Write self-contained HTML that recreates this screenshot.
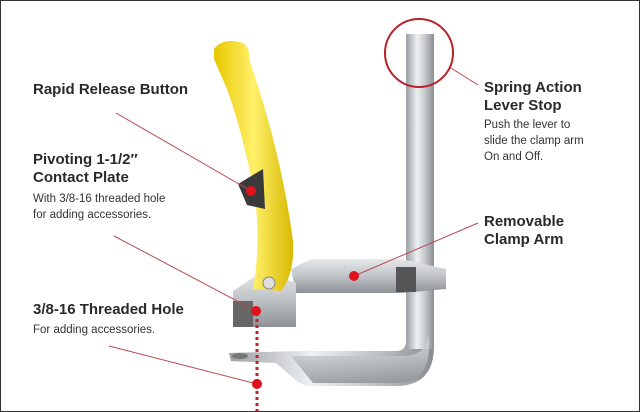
<!DOCTYPE html>
<html><head><style>
html,body{margin:0;padding:0;background:#fff}
.w{position:relative;width:638px;height:410px;border:1px solid #333;overflow:hidden;background:#fff;font-family:"Liberation Sans",sans-serif}
.t{position:absolute;font-weight:bold;font-size:15px;color:#2a2a2a;line-height:18px}
.s{position:absolute;font-size:11.5px;color:#333;line-height:16px}
svg{position:absolute;left:0;top:0}
</style></head><body><div class="w">
<svg width="640" height="412">
<defs>
<linearGradient id="m" x1="0" x2="1"><stop offset="0" stop-color="#9a9ea3"/><stop offset=".4" stop-color="#eef0f2"/><stop offset=".7" stop-color="#c2c6ca"/><stop offset="1" stop-color="#8a8e92"/></linearGradient>
<linearGradient id="mh" x1="0" y1="0" x2="0" y2="1"><stop offset="0" stop-color="#e6e8ea"/><stop offset=".5" stop-color="#c0c4c8"/><stop offset="1" stop-color="#8e9296"/></linearGradient>
<linearGradient id="y" x1="0" x2="1"><stop offset="0" stop-color="#e8c800"/><stop offset=".5" stop-color="#fff06a"/><stop offset="1" stop-color="#d9b800"/></linearGradient>
</defs>
<path d="M405 33 L433 33 L433 345 Q433 385 395 385 L310 385 Q300 385 290 375 L275 362 L230 360 L228 352 L300 350 L395 350 Q405 350 405 340 Z" fill="url(#m)"/>
<rect x="405" y="33" width="28" height="315" fill="url(#m)"/>
<path d="M290 355 L400 355 Q428 355 428 330 L428 345 Q428 382 395 382 L312 382 Z" fill="url(#mh)" opacity=".8"/>
<ellipse cx="239" cy="355" rx="8" ry="3" fill="#777"/>
<path d="M290 268 L310 258 L400 258 L445 268 L445 288 L400 292 L295 292 Z" fill="url(#mh)"/>
<rect x="395" y="266" width="20" height="25" fill="#555"/>
<path d="M232 290 L262 270 L295 282 L295 326 L232 326 Z" fill="url(#mh)"/>
<rect x="232" y="300" width="20" height="26" fill="#666"/>
<path d="M213 48 Q222 36 242 42 Q250 48 248 58 Q280 150 292 240 Q294 272 280 290 L252 288 Q262 230 250 175 Q238 120 226 88 Q218 70 213 58 Z" fill="url(#y)"/>
<path d="M237 183 L262 168 L264 208 L246 204 Z" fill="#3a3a3a"/>
<circle cx="268" cy="282" r="6" fill="#ddd" stroke="#888"/>
<circle cx="418" cy="52" r="34" fill="none" stroke="#b8222a" stroke-width="2"/>
<g stroke="#b84a50" stroke-width="1">
<line x1="450" y1="67" x2="477" y2="84"/>
<line x1="115" y1="112" x2="250" y2="190"/>
<line x1="113" y1="235" x2="255" y2="310"/>
<line x1="108" y1="345" x2="256" y2="383"/>
<line x1="477" y1="222" x2="353" y2="275"/>
</g>
<line x1="256" y1="312" x2="256" y2="410" stroke="#c41e26" stroke-width="3" stroke-dasharray="3 3"/>
<g fill="#e0121c"><circle cx="250" cy="190" r="5"/><circle cx="255" cy="310" r="5"/><circle cx="256" cy="383" r="5"/><circle cx="353" cy="275" r="5"/></g>
</svg>
<div class="t" style="left:32px;top:80px">Rapid Release Button</div>
<div class="t" style="left:32px;top:150px">Pivoting 1-1/2″<br>Contact Plate</div>
<div class="s" style="left:32px;top:190px">With 3/8-16 threaded hole<br>for adding accessories.</div>
<div class="t" style="left:32px;top:300px">3/8-16 Threaded Hole</div>
<div class="s" style="left:32px;top:321px">For adding accessories.</div>
<div class="t" style="left:483px;top:78px">Spring Action<br>Lever Stop</div>
<div class="s" style="left:483px;top:116px">Push the lever to<br>slide the clamp arm<br>On and Off.</div>
<div class="t" style="left:483px;top:212px">Removable<br>Clamp Arm</div>
</div></body></html>
